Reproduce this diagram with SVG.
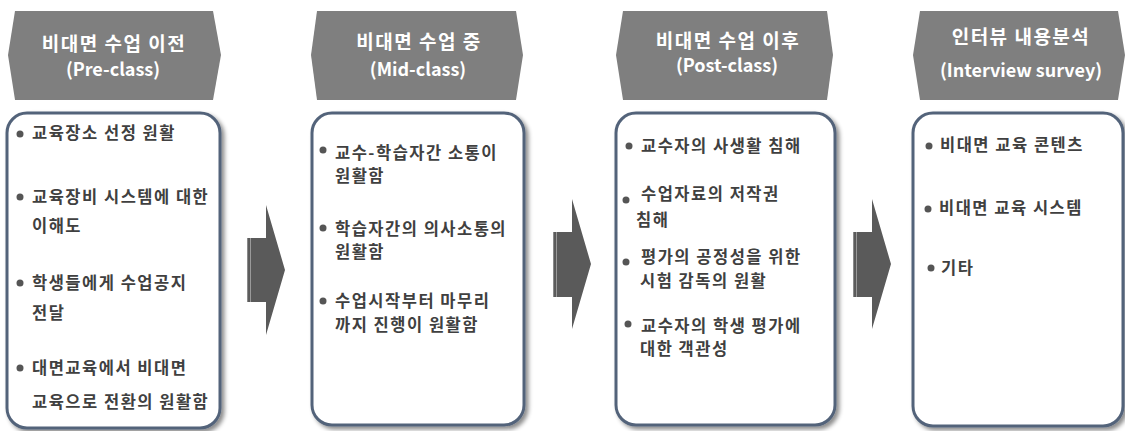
<svg xmlns="http://www.w3.org/2000/svg" width="1125" height="431" viewBox="0 0 1125 431">
<defs>
<filter id="sh" x="-10%" y="-10%" width="130%" height="130%">
<feDropShadow dx="3" dy="3" stdDeviation="2" flood-color="#000" flood-opacity="0.45"/>
</filter>
<filter id="bl" x="-50%" y="-50%" width="200%" height="200%">
<feGaussianBlur stdDeviation="0.6"/>
</filter>
<linearGradient id="ag" x1="0" y1="0" x2="1" y2="0">
<stop offset="0" stop-color="#8a8a8a"/>
<stop offset="0.03" stop-color="#8a8a8a"/>
<stop offset="0.04" stop-color="#5a5a5a"/>
<stop offset="0.07" stop-color="#5a5a5a"/>
<stop offset="0.08" stop-color="#9a9a9a"/>
<stop offset="0.1" stop-color="#9a9a9a"/>
<stop offset="0.11" stop-color="#5a5a5a"/>
<stop offset="1" stop-color="#5a5a5a"/>
</linearGradient>
</defs>
<style>
.hdr{fill:#7f7f7f}
.ht{font-family:"Noto Sans CJK KR","Malgun Gothic",sans-serif;font-weight:bold;font-size:19px;letter-spacing:1.5px;fill:#fff;text-anchor:middle}
.hl{font-family:"Noto Sans CJK KR","Malgun Gothic",sans-serif;font-weight:bold;font-size:18px;fill:#fff;text-anchor:middle}
.box{fill:#fff;stroke:#53637a;stroke-width:3}
.t{font-family:"Noto Sans CJK KR","Malgun Gothic",sans-serif;font-weight:bold;font-size:16.5px;letter-spacing:1.5px;fill:#404040}
.b{fill:#555;filter:url(#bl)}
.arr{fill:url(#ag)}
</style>
<rect width="1125" height="431" fill="#fff"/>

<g id="stage1">
<polygon class="hdr" points="15,11 213,11 221,55 213,100 15,100 8,55"/>
<text class="ht" x="114" y="51">비대면 수업 이전</text>
<text class="hl" x="113" y="76">(Pre-class)</text>
<rect class="box" x="7" y="113" width="213" height="315" rx="20" filter="url(#sh)"/>
<circle class="b" cx="20" cy="134" r="3.5"/>
<text class="t" x="32" y="139">교육장소 선정 원활</text>
<circle class="b" cx="20" cy="197" r="3.5"/>
<text class="t" x="32" y="203">교육장비 시스템에 대한</text>
<text class="t" x="32" y="232">이해도</text>
<circle class="b" cx="20" cy="283" r="3.5"/>
<text class="t" x="32" y="289">학생들에게 수업공지</text>
<text class="t" x="32" y="319">전달</text>
<circle class="b" cx="20" cy="368" r="3.5"/>
<text class="t" x="32" y="374">대면교육에서 비대면</text>
<text class="t" x="32" y="408">교육으로 전환의 원활함</text>
</g>

<g id="stage2">
<polygon class="hdr" points="317,11 516,11 523,55 516,100 317,100 311,55"/>
<text class="ht" x="419" y="49">비대면 수업 중</text>
<text class="hl" x="418" y="76">(Mid-class)</text>
<rect class="box" x="312" y="113" width="212" height="312" rx="20" filter="url(#sh)"/>
<circle class="b" cx="323" cy="150" r="3.5"/>
<text class="t" x="335" y="159">교수-학습자간 소통이</text>
<text class="t" x="335" y="182">원활함</text>
<circle class="b" cx="323" cy="228" r="3.5"/>
<text class="t" x="335" y="235">학습자간의 의사소통의</text>
<text class="t" x="335" y="258">원활함</text>
<circle class="b" cx="323" cy="301" r="3.5"/>
<text class="t" x="335" y="307">수업시작부터 마무리</text>
<text class="t" x="335" y="331">까지 진행이 원활함</text>
</g>

<g id="stage3">
<polygon class="hdr" points="623,11 827,11 833,55 827,100 623,100 616,55"/>
<text class="ht" x="728" y="48">비대면 수업 이후</text>
<text class="hl" x="727" y="72">(Post-class)</text>
<rect class="box" x="616" y="113" width="219" height="312" rx="20" filter="url(#sh)"/>
<circle class="b" cx="629" cy="146" r="3.5"/>
<text class="t" x="641" y="152">교수자의 사생활 침해</text>
<circle class="b" cx="626" cy="200" r="3.5"/>
<text class="t" x="641" y="200">수업자료의 저작권</text>
<text class="t" x="636" y="226">침해</text>
<circle class="b" cx="626" cy="262" r="3.5"/>
<text class="t" x="641" y="263">평가의 공정성을 위한</text>
<text class="t" x="640" y="287">시험 감독의 원활</text>
<circle class="b" cx="628" cy="324" r="3.5"/>
<text class="t" x="641" y="332">교수자의 학생 평가에</text>
<text class="t" x="640" y="355">대한 객관성</text>
</g>

<g id="stage4">
<polygon class="hdr" points="920,11 1118,11 1125,55 1118,100 920,100 913,55"/>
<text class="ht" x="1021" y="44">인터뷰 내용분석</text>
<text class="hl" x="1021" y="77">(Interview survey)</text>
<rect class="box" x="913" y="113" width="210" height="313" rx="20" filter="url(#sh)"/>
<circle class="b" cx="929" cy="146" r="3.5"/>
<text class="t" x="940" y="151">비대면 교육 콘텐츠</text>
<circle class="b" cx="928" cy="209" r="3.5"/>
<text class="t" x="939" y="214">비대면 교육 시스템</text>
<circle class="b" cx="931" cy="268" r="3.5"/>
<text class="t" x="941" y="274">기타</text>
</g>

<g id="connectors">
<polygon class="arr" points="247,238 266,238 266,205 285,270 266,335 266,302 247,302"/>
<polygon class="arr" points="553,232 572,232 572,199 591,264 572,329 572,297 553,297"/>
<polygon class="arr" points="853,232 872,232 872,199 891,264 872,329 872,297 853,297"/>
</g>
</svg>
